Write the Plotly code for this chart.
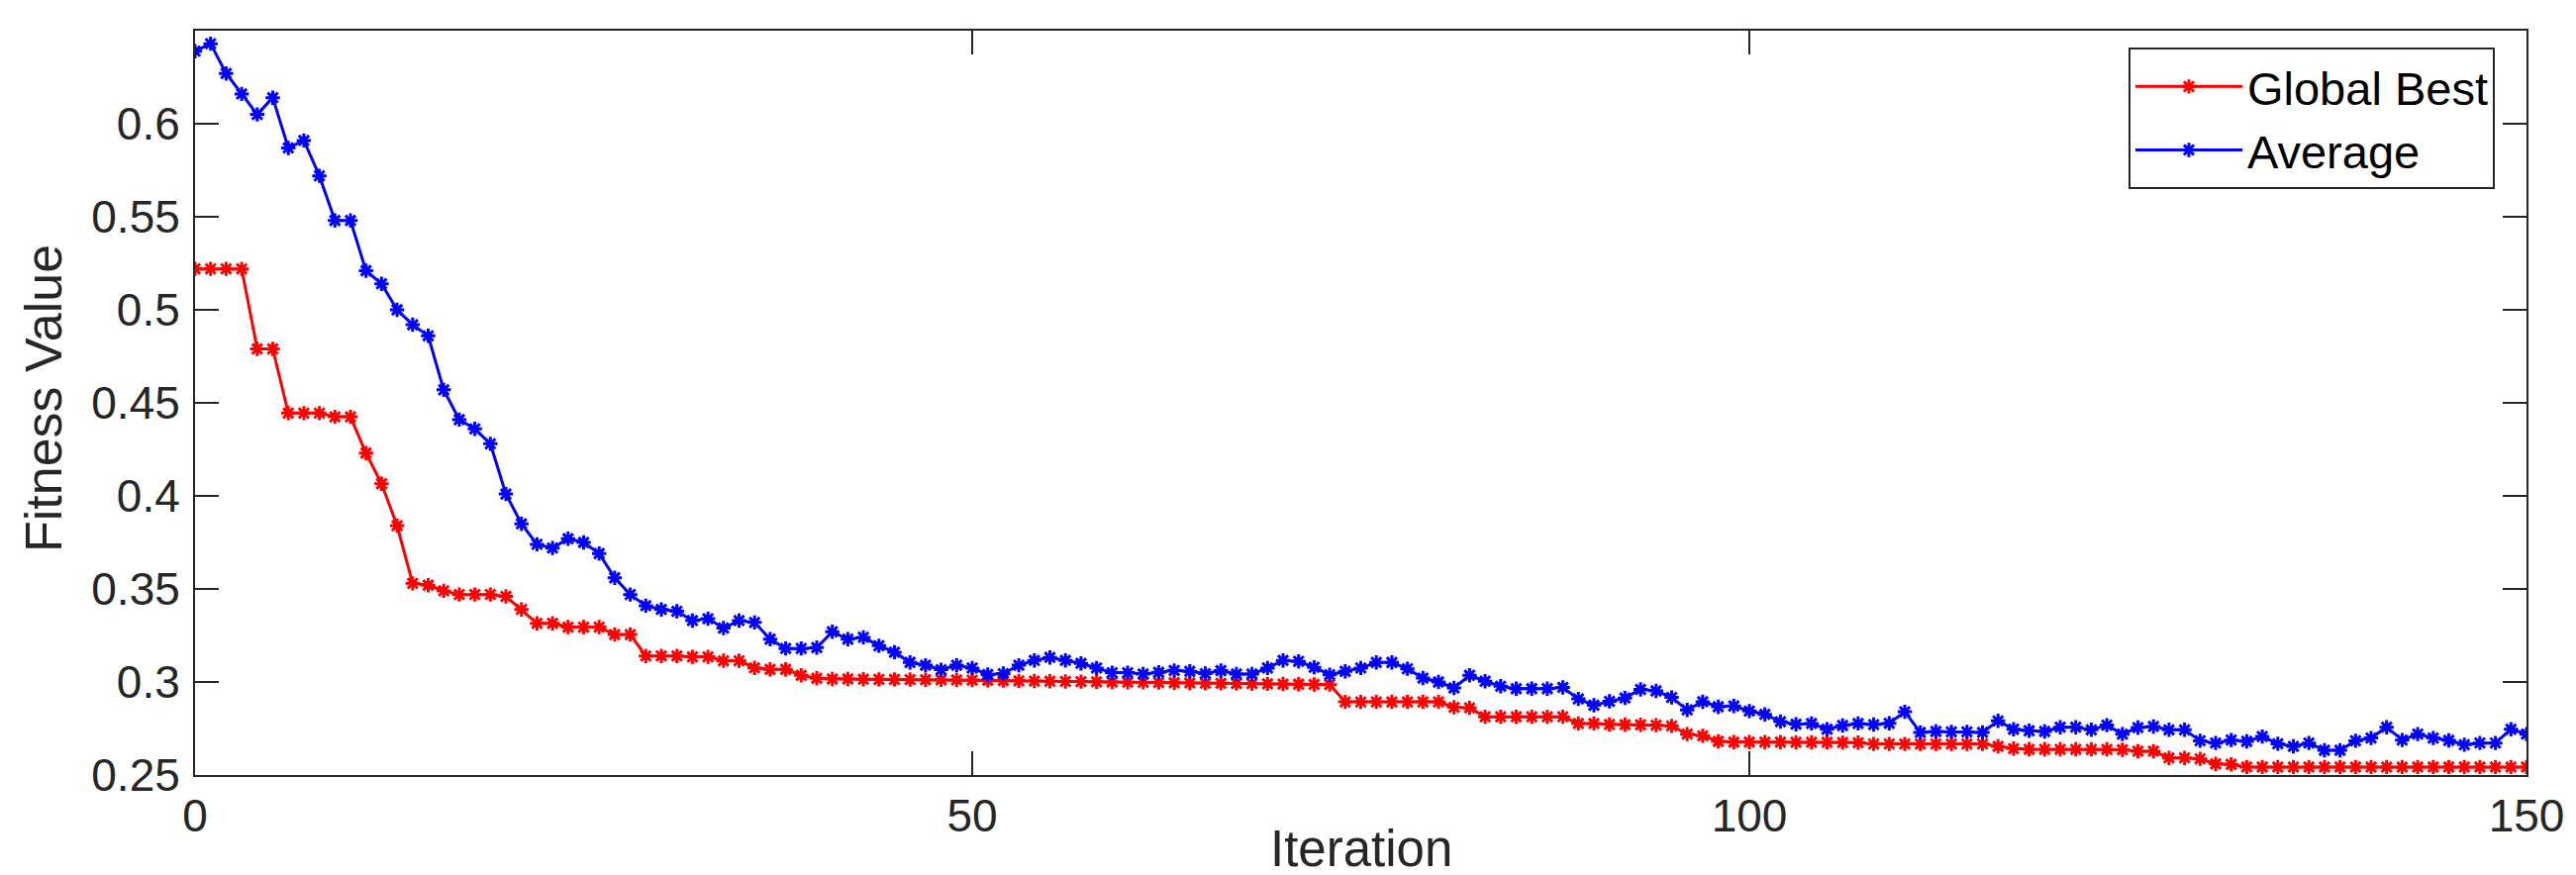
import plotly.graph_objects as go

iterations = list(range(151))

global_best = [
    0.522, 0.522, 0.522, 0.522, 0.479, 0.479, 0.4445, 0.4445, 0.4445, 0.4425,
    0.4425, 0.423, 0.4065, 0.384, 0.353, 0.352, 0.349, 0.347, 0.347, 0.347,
    0.346, 0.339, 0.3315, 0.3315, 0.3295, 0.3295, 0.3295, 0.3255, 0.3255, 0.314,
    0.314, 0.314, 0.3135, 0.3135, 0.3114, 0.3114, 0.3076, 0.3068, 0.3068, 0.3036,
    0.3020, 0.3016, 0.3016, 0.3015, 0.3014, 0.3014, 0.3013, 0.3012, 0.3012, 0.3011,
    0.3010, 0.3009, 0.3008, 0.3006, 0.3005, 0.3004, 0.3003, 0.3002, 0.3001, 0.3000,
    0.2999, 0.2998, 0.2997, 0.2996, 0.2995, 0.2994, 0.2993, 0.2992, 0.2991, 0.2990,
    0.2989, 0.2988, 0.2987, 0.2986, 0.2893, 0.2893, 0.2893, 0.2893, 0.2893, 0.2893,
    0.2893, 0.2864, 0.2861, 0.2813, 0.2813, 0.2813, 0.2813, 0.2813, 0.2813, 0.2777,
    0.2777, 0.2772, 0.2771, 0.2770, 0.2768, 0.2764, 0.2720, 0.2711, 0.2681, 0.2677,
    0.2677, 0.2677, 0.2677, 0.2676, 0.2676, 0.2676, 0.2675, 0.2674, 0.2667, 0.2667,
    0.2667, 0.2667, 0.2667, 0.2667, 0.2667, 0.2667, 0.2654, 0.2642, 0.2638, 0.2638,
    0.2638, 0.2638, 0.2638, 0.2638, 0.2636, 0.2628, 0.2628, 0.2592, 0.2592, 0.2587,
    0.2560, 0.2557, 0.2543, 0.2543, 0.2543, 0.2543, 0.2543, 0.2543, 0.2543, 0.2543,
    0.2543, 0.2543, 0.2543, 0.2543, 0.2543, 0.2543, 0.2543, 0.2543, 0.2543, 0.2543,
    0.2543,
]

average = [
    0.639, 0.643, 0.627, 0.616, 0.605, 0.614, 0.587, 0.591, 0.572, 0.548,
    0.548, 0.521, 0.514, 0.500, 0.492, 0.486, 0.457, 0.441, 0.436, 0.428,
    0.401, 0.385, 0.374, 0.372, 0.377, 0.375, 0.369, 0.356, 0.347, 0.341,
    0.339, 0.338, 0.333, 0.334, 0.329, 0.333, 0.332, 0.323, 0.318, 0.318,
    0.3185, 0.327, 0.323, 0.324, 0.3195, 0.316, 0.3105, 0.309, 0.3066, 0.309,
    0.3075, 0.304, 0.3045, 0.309, 0.3116, 0.3132, 0.3116, 0.310, 0.3075, 0.305,
    0.305, 0.3043, 0.3052, 0.3062, 0.3057, 0.3045, 0.3061, 0.3043, 0.3043, 0.3075,
    0.3116, 0.3111, 0.3079, 0.3039, 0.3057, 0.3075, 0.3105, 0.3105, 0.3071, 0.3021,
    0.3000, 0.2968, 0.3036, 0.3004, 0.2977, 0.2964, 0.2964, 0.2964, 0.2971, 0.2909,
    0.2875, 0.2896, 0.2914, 0.2960, 0.2952, 0.2917, 0.2850, 0.2894, 0.2867, 0.2871,
    0.2844, 0.2826, 0.2787, 0.2773, 0.2777, 0.2746, 0.2766, 0.2777, 0.2771, 0.2778,
    0.2840, 0.2729, 0.2734, 0.2732, 0.2732, 0.2729, 0.2791, 0.2746, 0.2738, 0.2734,
    0.2757, 0.2757, 0.2743, 0.2768, 0.2720, 0.2755, 0.2761, 0.2743, 0.2743, 0.2684,
    0.2672, 0.2688, 0.2681, 0.2707, 0.2668, 0.2654, 0.2672, 0.2633, 0.2633, 0.2684,
    0.2699, 0.2757, 0.2688, 0.2720, 0.2699, 0.2686, 0.2663, 0.2672, 0.2672, 0.2746,
    0.2720,
]

y_tick_vals = [0.25, 0.3, 0.35, 0.4, 0.45, 0.5, 0.55, 0.6]
y_tick_text = ["0.25", "0.3", "0.35", "0.4", "0.45", "0.5", "0.55", "0.6"]
x_tick_vals = [0, 50, 100, 150]
x_title = "Iteration"
y_title = "Fitness Value"

FONT = "Liberation Sans, Arial, Helvetica, sans-serif"
AX = "#262626"

fig = go.Figure()
fig.add_trace(go.Scatter(
    x=iterations, y=global_best, name="Global Best", mode="lines+markers",
    line=dict(color="#ff0000", width=3),
    marker=dict(symbol="asterisk-open", size=12, color="#ff0000",
                line=dict(color="#ff0000", width=3)),
))
fig.add_trace(go.Scatter(
    x=iterations, y=average, name="Average", mode="lines+markers",
    line=dict(color="#0000ff", width=3),
    marker=dict(symbol="asterisk-open", size=12, color="#0000ff",
                line=dict(color="#0000ff", width=3)),
))

fig.update_layout(
    width=2602, height=884,
    margin=dict(l=189, r=58, t=23, b=109),
    paper_bgcolor="white", plot_bgcolor="white",
    font=dict(family=FONT, size=46, color=AX),
    showlegend=True,
    legend=dict(
        x=0.9864, y=0.977, xanchor="right", yanchor="top",
        bgcolor="white", bordercolor=AX, borderwidth=2,
        font=dict(family=FONT, size=47, color="black"),
        itemwidth=108, tracegroupgap=0,
    ),
    xaxis=dict(
        range=[0, 150], tickvals=x_tick_vals,
        ticks="inside", ticklen=24, tickwidth=2, tickcolor=AX,
        showline=True, linecolor=AX, linewidth=2, mirror="ticks",
        showgrid=False, zeroline=False,
        tickfont=dict(family=FONT, size=46, color=AX),
        ticklabelstandoff=0,
    ),
    yaxis=dict(
        range=[0.25, 0.65], tickvals=y_tick_vals, ticktext=y_tick_text,
        ticks="inside", ticklen=24, tickwidth=2, tickcolor=AX,
        showline=True, linecolor=AX, linewidth=2, mirror="ticks",
        showgrid=False, zeroline=False,
        tickfont=dict(family=FONT, size=46, color=AX),
        ticklabelstandoff=4,
    ),
    annotations=[
        dict(text=x_title, xref="paper", yref="paper", x=0.5, y=0,
             xanchor="center", yanchor="middle", yshift=-74, showarrow=False,
             font=dict(family=FONT, size=51, color=AX)),
        dict(text=y_title, xref="paper", yref="paper", x=0, y=0.5,
             xanchor="center", yanchor="middle", xshift=-153, yshift=4,
             textangle=-90, showarrow=False,
             font=dict(family=FONT, size=52, color=AX)),
    ],
)

fig.write_html("out.html")
